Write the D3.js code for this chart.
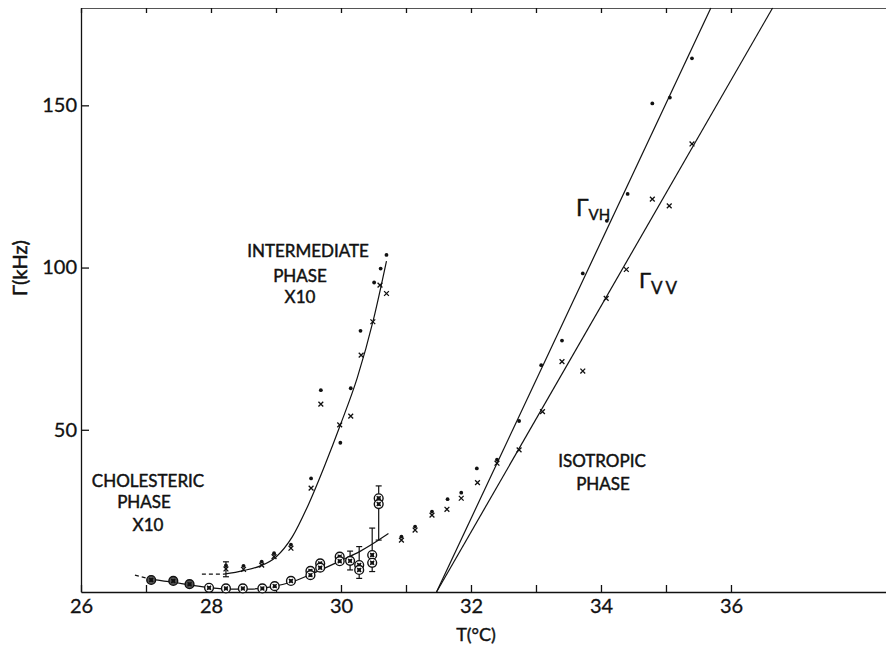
<!DOCTYPE html>
<html>
<head>
<meta charset="utf-8">
<style>
  body { margin: 0; background: #fff; }
  svg { display: block; font-family: Lato, 'Noto Sans', sans-serif; }
  .axis path, .axis line { stroke: #111; stroke-width: 1.3px; }
  .axis text { font-size: 20px; fill: #111; font-family: Lato, sans-serif; stroke: #111; stroke-width: 0.3px; }
  .fit { fill: none; stroke: #111; stroke-width: 1.2px; }
  .lbl { font-size: 17px; fill: #111; text-anchor: middle; stroke: #111; stroke-width: 0.45px; }
</style>
</head>
<body>
<div id="chart"></div>
<script src="https://cdn.jsdelivr.net/npm/d3@7"></script>
<script>
  // axis ticks
  const xLabelTicks = [26, 28, 30, 32, 34, 36]
  const xMinorTicks = [26, 27, 28, 29, 30, 31, 32, 33, 34, 35, 36]
  const yTicks = [50, 100, 150]

  // [T (°C), Γ (kHz)]
  // cholesteric phase x10, circles (the first ones print darker)
  const cholestericDark = [[27.08, 3.7], [27.42, 3.4], [27.67, 2.4]]
  const cholesteric = [[27.97, 1.3], [28.23, 1.1], [28.49, 1.1],
    [28.79, 1.1], [28.98, 1.8], [29.23, 3.4], [29.53, 6.5], [29.53, 5.2], [29.68, 8.8], [29.68, 7.5],
    [29.98, 10.9], [29.98, 9.5], [30.14, 9.6], [30.28, 8.3], [30.28, 6.8], [30.48, 11.4], [30.48, 9.0],
    [30.58, 28.9], [30.58, 27.1]]
  // [T, low, high]
  const errorBars = [[28.23, 4.7, 9.3], [30.14, 6.8, 12.6], [30.28, 4.2, 14.0], [30.48, 6.3, 19.7], [30.58, 16.0, 32.7]]

  // intermediate phase x10
  const interBoth = [[28.23, 7.1], [28.5, 7.0], [28.78, 8.3], [28.97, 10.9], [29.23, 13.5]]
  const interVH = [[29.54, 35.0], [29.69, 62.2], [29.99, 46.0], [30.15, 62.8], [30.30, 80.5], [30.51, 95.4], [30.61, 99.7], [30.70, 103.9]]
  const interVV = [[29.54, 32.0], [29.69, 57.9], [29.98, 51.5], [30.15, 54.2], [30.31, 73.0], [30.49, 83.3], [30.60, 94.6], [30.70, 92.0]]

  // isotropic phase
  const isoBoth = [[30.93, 16.0], [31.14, 19.1], [31.40, 23.7], [32.40, 39.7]]
  const isoVH = [[31.64, 28.6], [31.85, 30.6], [32.09, 38.1], [32.74, 52.7], [33.08, 69.9], [33.40, 77.5], [33.72, 98.2],
    [34.09, 114.4], [34.41, 122.7], [34.79, 150.6], [35.06, 152.4], [35.40, 164.5]]
  const isoVV = [[31.63, 25.5], [31.85, 28.9], [32.10, 33.7], [32.74, 43.8], [33.10, 55.6], [33.40, 71.0], [33.72, 68.1],
    [34.08, 90.5], [34.39, 99.4], [34.79, 121.1], [35.05, 119.0], [35.40, 138.1]]

  // fitted curves
  const lowerFitDash = [[26.83, 5.2], [27.08, 3.9]]
  const lowerFit = [[27.08, 3.9], [27.42, 3.0], [27.67, 2.2], [28.0, 1.3], [28.3, 0.9], [28.6, 0.9], [28.9, 1.5],
    [29.23, 3.0], [29.53, 5.4], [30.0, 9.7], [30.3, 12.6], [30.58, 16.0], [30.73, 18.0]]
  const upperFitDash = [[27.86, 5.5], [28.2, 5.5]]
  const upperFit = [[28.2, 5.5], [28.5, 6.6], [28.78, 8.2], [29.0, 10.8], [29.25, 17], [29.5, 27], [29.75, 39],
    [30.0, 52], [30.25, 66], [30.5, 84], [30.7, 102]]
  const vhLine = [[31.47, 0], [35.69, 180]]
  const vvLine = [[31.47, 0], [36.64, 180]]

  const W = 886, H = 647
  const x = d3.scaleLinear().domain([26, 38.385]).range([81, 886])
  const y = d3.scaleLinear().domain([0, 180]).range([592, 8])

  const svg = d3.select('#chart').append('svg')
    .attr('width', W).attr('height', H)

  svg.append('rect').attr('width', W).attr('height', H).attr('fill', '#fff')

  // axes
  svg.append('g').attr('class', 'axis')
    .attr('transform', `translate(0, ${y(0)})`)
    .call(d3.axisBottom(x).tickValues(xMinorTicks).tickSizeInner(-7).tickSizeOuter(0).tickPadding(7)
      .tickFormat(d => xLabelTicks.includes(d) ? d : ''))

  svg.append('g').attr('class', 'axis')
    .attr('transform', `translate(0, ${y(180)})`)
    .call(d3.axisTop(x).tickValues(xMinorTicks).tickSizeInner(-5).tickSizeOuter(0).tickFormat(''))
    .select('path').style('stroke', '#555').style('stroke-width', '1px')

  svg.append('g').attr('class', 'axis')
    .attr('transform', `translate(${x(26)}, 0)`)
    .call(d3.axisLeft(y).tickValues(yTicks).tickSizeInner(-8).tickSizeOuter(0).tickPadding(4))

  // axis titles
  svg.append('text')
    .attr('transform', `translate(${27}, ${268}) rotate(-90)`)
    .attr('text-anchor', 'middle')
    .attr('font-size', 20)
    .attr('fill', '#111').attr('stroke', '#111').attr('stroke-width', 0.5)
    .text('Γ(kHz)')

  svg.append('text')
    .attr('x', 476).attr('y', 641)
    .attr('text-anchor', 'middle')
    .attr('font-size', 18)
    .attr('fill', '#111').attr('stroke', '#111').attr('stroke-width', 0.4)
    .text('T(°C)')

  // fit curves
  const line = d3.line().x(d => x(d[0])).y(d => y(d[1]))
  const smooth = d3.line().x(d => x(d[0])).y(d => y(d[1])).curve(d3.curveMonotoneX)

  svg.append('path').attr('class', 'fit').attr('d', smooth(lowerFit))
  svg.append('path').attr('class', 'fit').attr('d', line(lowerFitDash)).attr('stroke-dasharray', '4,3')
  svg.append('path').attr('class', 'fit').attr('d', smooth(upperFit))
  svg.append('path').attr('class', 'fit').attr('d', line(upperFitDash)).attr('stroke-dasharray', '4,3')
  svg.append('path').attr('class', 'fit').attr('d', line(vhLine))
  svg.append('path').attr('class', 'fit').attr('d', line(vvLine))

  // error bars
  const eb = svg.append('g').attr('stroke', '#111').attr('stroke-width', 1.2)
  errorBars.forEach(d => {
    eb.append('line').attr('x1', x(d[0])).attr('x2', x(d[0])).attr('y1', y(d[1])).attr('y2', y(d[2]))
    eb.append('line').attr('x1', x(d[0]) - 3).attr('x2', x(d[0]) + 3).attr('y1', y(d[2])).attr('y2', y(d[2]))
    eb.append('line').attr('x1', x(d[0]) - 3).attr('x2', x(d[0]) + 3).attr('y1', y(d[1])).attr('y2', y(d[1]))
  })

  // markers
  function drawCross(g, d, s) {
    const cx = x(d[0]), cy = y(d[1])
    g.append('path')
      .attr('d', `M${cx - s},${cy - s}L${cx + s},${cy + s}M${cx - s},${cy + s}L${cx + s},${cy - s}`)
      .attr('stroke', '#111').attr('stroke-width', 1.3).attr('fill', 'none')
  }
  function drawDot(g, d, dy) {
    g.append('circle').attr('cx', x(d[0])).attr('cy', y(d[1]) + (dy || 0)).attr('r', 1.9).attr('fill', '#111')
  }
  function drawRing(g, d, fill) {
    g.append('circle').attr('cx', x(d[0])).attr('cy', y(d[1])).attr('r', 4.4)
      .attr('fill', fill).attr('stroke', '#111').attr('stroke-width', 1.4)
    drawCross(g, d, 2)
    drawDot(g, d, 0)
  }

  const marks = svg.append('g')

  cholesteric.forEach(d => drawRing(marks, d, '#fff'))
  cholestericDark.forEach(d => drawRing(marks, d, '#555'))

  interBoth.concat(isoBoth).forEach(d => {
    drawCross(marks, d, 2.4)
    drawDot(marks, d, -3.5)
  })
  interVH.concat(isoVH).forEach(d => drawDot(marks, d, 0))
  interVV.concat(isoVV).forEach(d => drawCross(marks, d, 2.4))

  // phase labels
  const labels = svg.append('g').attr('class', 'lbl')
  labels.append('text').attr('x', 148).attr('y', 487).text('CHOLESTERIC')
  labels.append('text').attr('x', 144).attr('y', 508).text('PHASE')
  labels.append('text').attr('x', 148).attr('y', 531).text('X10')
  labels.append('text').attr('x', 308).attr('y', 257).text('INTERMEDIATE')
  labels.append('text').attr('x', 300).attr('y', 282).text('PHASE')
  labels.append('text').attr('x', 300).attr('y', 303).text('X10')
  labels.append('text').attr('x', 602).attr('y', 467).text('ISOTROPIC')
  labels.append('text').attr('x', 603).attr('y', 490).text('PHASE')

  // Γ labels
  const g1 = svg.append('text').attr('x', 576).attr('y', 216).attr('fill', '#111')
    .attr('stroke', '#111').attr('stroke-width', 0.4).attr('font-size', 23)
  g1.append('tspan').text('Γ')
  g1.append('tspan').attr('font-size', 15).attr('dy', 4).text('VH')
  const g2 = svg.append('text').attr('x', 639).attr('y', 288).attr('fill', '#111')
    .attr('stroke', '#111').attr('stroke-width', 0.4).attr('font-size', 22)
  g2.append('tspan').text('Γ')
  g2.append('tspan').attr('font-size', 17).attr('dy', 6).attr('letter-spacing', 3).text('VV')
</script>
</body>
</html>
